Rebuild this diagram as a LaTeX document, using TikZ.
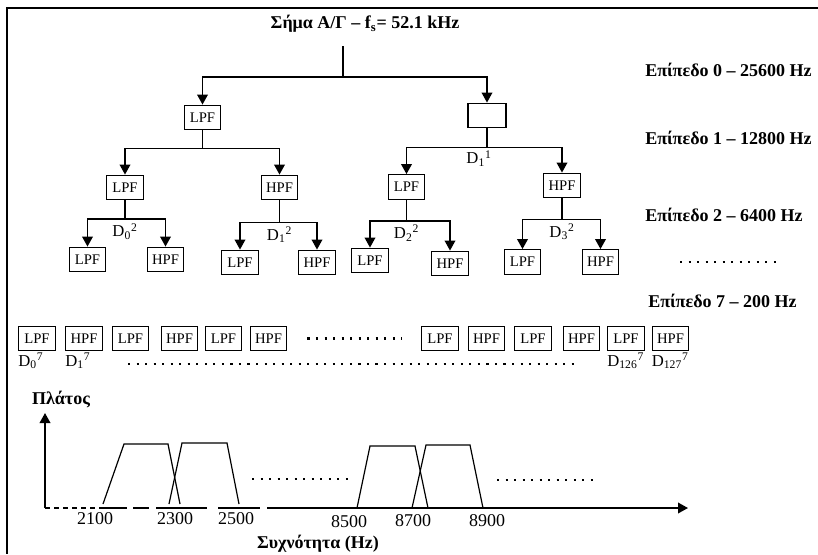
\documentclass[tikz,border=0pt]{standalone}
\usepackage{fontspec}
\setmainfont{Liberation Serif}
\usetikzlibrary{arrows.meta, positioning, calc}
\tikzset{
  % filter block (LPF / HPF)
  filt/.style={
    rectangle, draw, line width=0.9pt,
    minimum width=27.5pt, minimum height=18.5pt, inner sep=0pt,
    font=\fontsize{11}{12}\selectfont
  },
  % level captions on the right
  lvl/.style={anchor=west, inner sep=0pt, font=\bfseries\fontsize{13.5}{15}\selectfont},
  dlab/.style={inner sep=0pt, font=\fontsize{12.5}{14}\selectfont},
  tck/.style={inner sep=0pt, font=\fontsize{13.5}{15}\selectfont},
  wire/.style={line width=1.1pt},
  arr/.style={wire, -{Triangle[width=8pt,length=7.5pt]}},
  dots/.style={line width=1.6pt, dash pattern=on 1.6pt off 4.8pt},
  band/.style={line width=0.9pt, line join=miter}
}
\newcommand{\dsub}[2]{D\textsubscript{#1}\textsuperscript{#2}}

\begin{document}
\begin{tikzpicture}[x=0.75pt, y=-0.75pt]

  \useasboundingbox (0,0) rectangle (818,554);
  \draw[line width=1.5pt] (818,8) -- (7,8) -- (7,554);

  %% ── Level 0 ────────────────────────────────────────────────────────────
  \node[font=\bfseries\fontsize{13.5}{15}\selectfont] (sig) at (365,24)
    {Σήμα Α/Γ – f\textsubscript{s}= 52.1 kHz};
  \coordinate (s0) at (343,77);

  \node[filt] (l1) at (202.5,117.5) {LPF};
  \node[filt, minimum width=28.5pt] (h1) at (487,115.5) {};

  \draw[wire] (sig.south -| s0) ++(0,9) -- (s0);
  \draw[arr] (s0) -| (l1);
  \draw[arr] (s0) -| (h1);

  %% ── Level 1 ────────────────────────────────────────────────────────────
  \node[filt] (ll) at (125,187.5)   {LPF};
  \node[filt] (lh) at (279.5,187.5) {HPF};
  \node[filt] (rl) at (406.5,187)   {LPF};
  \node[filt] (rh) at (562,185.5)   {HPF};

  \coordinate[below=13.5pt of l1.south] (s1a);
  \coordinate[below=14.25pt of h1.south] (s1b);

  \draw[wire] (l1) -- (s1a);
  \draw[arr] (s1a) -| (ll);
  \draw[arr] (s1a) -| (lh);
  \draw[wire] (h1) -- (s1b);
  \draw[arr] (s1b) -| (rl);
  \draw[arr] (s1b) -| (rh);
  \node[dlab, below=2pt of s1b, xshift=-6pt] (d11) {\dsub{1}{1}};

  %% ── Level 2 ────────────────────────────────────────────────────────────
  \node[filt] (lll) at (87.5,259.5)  {LPF};
  \node[filt] (llh) at (165.5,259.5) {HPF};
  \node[filt] (lhl) at (240,262.5)   {LPF};
  \node[filt] (lhh) at (317,262.5)   {HPF};
  \node[filt] (rll) at (370,260.5)   {LPF};
  \node[filt] (rlh) at (450,263.5)   {HPF};
  \node[filt] (rhl) at (522.5,262)   {LPF};
  \node[filt] (rhh) at (600.5,262)   {HPF};

  \coordinate[below=14pt of ll.south]    (s2a);
  \coordinate[below=16.5pt of lh.south]  (s2b);
  \coordinate[below=15.75pt of rl.south] (s2c);
  \coordinate[below=15.75pt of rh.south] (s2d);

  \draw[wire] (ll) -- (s2a);
  \draw[arr] (s2a) -| (lll);
  \draw[arr] (s2a) -| (llh);
  \draw[wire] (lh) -- (s2b);
  \draw[arr] (s2b) -| (lhl);
  \draw[arr] (s2b) -| (lhh);
  \draw[wire] (rl) -- (s2c);
  \draw[arr] (s2c) -| (rll);
  \draw[arr] (s2c) -| (rlh);
  \draw[wire] (rh) -- (s2d);
  \draw[arr] (s2d) -| (rhl);
  \draw[arr] (s2d) -| (rhh);

  \node[dlab, below=3pt of s2a] (d02) {\dsub{0}{2}};
  \node[dlab, below=3pt of s2b] (d12) {\dsub{1}{2}};
  \node[dlab, below=3pt of s2c] (d22) {\dsub{2}{2}};
  \node[dlab, below=3pt of s2d] (d32) {\dsub{3}{2}};

  %% ── Level captions ─────────────────────────────────────────────────────
  \node[lvl] (lv0) at (645,70)  {Επίπεδο 0 – 25600 Hz};
  \node[lvl] (lv1) at (645,138) {Επίπεδο 1 – 12800 Hz};
  \node[lvl] (lv2) at (645,215) {Επίπεδο 2 – 6400 Hz};
  \node[lvl] (lv7) at (648,301) {Επίπεδο 7 – 200 Hz};
  \draw[dots] (680,262) -- (777,262);

  %% ── Level 7 row ────────────────────────────────────────────────────────
  \foreach \x/\t [count=\i from 0] in {37/LPF, 84/HPF, 130.5/LPF, 179.5/HPF,
      223.5/LPF, 268.5/HPF, 440/LPF, 486.5/HPF, 533/LPF, 581.5/HPF,
      626/LPF, 670.5/HPF}
    \node[filt] (r\i) at (\x,338.5) {\t};

  \draw[dots] ([xshift=15pt]r5.east) -- ([xshift=-14pt]r6.west);
  \draw[dots] (128,364) -- (580,364);

  \node[dlab, anchor=north west] (d07)   at ([yshift=-1pt]r0.south west)  {\dsub{0}{7}};
  \node[dlab, anchor=north west] (d17)   at ([yshift=-1pt]r1.south west)  {\dsub{1}{7}};
  \node[dlab, anchor=north west] (d1267) at ([yshift=-1pt]r10.south west) {\dsub{126}{7}};
  \node[dlab, anchor=north west] (d1277) at ([yshift=-1pt]r11.south west) {\dsub{127}{7}};

  %% ── Amplitude / frequency plot ─────────────────────────────────────────
  \coordinate (o)    at (45,508);
  \coordinate (ytop) at (45,413);
  \coordinate (xend) at (688,508);

  \node[font=\bfseries\fontsize{13.5}{15}\selectfont, inner sep=0pt] (amp) at (61,400) {Πλάτος};
  \node[font=\bfseries\fontsize{13.5}{15}\selectfont, inner sep=0pt] (frq) at (318,544) {Συχνότητα (Hz)};

  \draw[arr] (o) -- (ytop);
  \draw[wire, dash pattern=on 3.75pt off 3pt] (o) -- (100,508);
  \draw[wire] (100,508) -- (127,508) (133,508) -- (149,508)
              (156,508) -- (207,508) (218,508) -- (260,508);
  \draw[arr] (267,508) -- (xend);

  % filter pass bands
  \draw[band] (103,504) -- (124,444) -- (168,444) -- (180,504);
  \draw[band] (169,504) -- (182,443) -- (227,443) -- (239,504);
  \draw[band] (357,508) -- (370,446) -- (415,446) -- (428,508);
  \draw[band] (412,508) -- (426,445) -- (470,445) -- (483,508);

  \draw[dots] (252,479) -- (348,479);
  \draw[dots] (497,480) -- (593,480);

  \node[tck] (f1) at (95,519)  {2100};
  \node[tck] (f2) at (175,519) {2300};
  \node[tck] (f3) at (236,519) {2500};
  \node[tck] (f4) at (349,522) {8500};
  \node[tck] (f5) at (413,521) {8700};
  \node[tck] (f6) at (487,521) {8900};

\end{tikzpicture}
\end{document}
